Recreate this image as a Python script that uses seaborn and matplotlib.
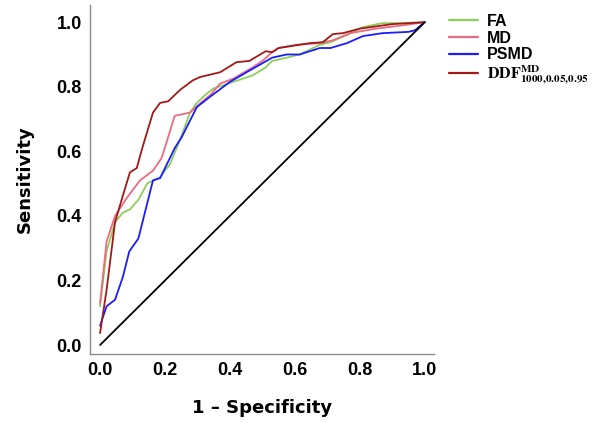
import pandas as pd
import matplotlib
matplotlib.use('Agg')
import matplotlib.pyplot as plt
import seaborn as sns

# ROC curves
fa_x = [0, 0.02, 0.046, 0.07, 0.092, 0.118, 0.145, 0.185, 0.215, 0.246, 0.277, 0.298, 0.33, 0.35,
        0.41, 0.47, 0.51, 0.53, 0.575, 0.615, 0.677, 0.71, 0.76, 0.81, 0.87, 0.93, 1.0]
fa_y = [0.12, 0.29, 0.38, 0.41, 0.42, 0.45, 0.50, 0.52, 0.56, 0.635, 0.72, 0.75, 0.78, 0.795,
        0.815, 0.835, 0.86, 0.88, 0.89, 0.90, 0.93, 0.938, 0.96, 0.985, 0.997, 0.997, 1.0]

md_x = [0, 0.02, 0.046, 0.082, 0.123, 0.163, 0.19, 0.23, 0.277, 0.31, 0.34, 0.37, 0.41, 0.47,
        0.50, 0.53, 0.55, 0.605, 0.677, 0.717, 0.77, 0.85, 0.93, 1.0]
md_y = [0.13, 0.32, 0.40, 0.455, 0.51, 0.54, 0.58, 0.71, 0.72, 0.75, 0.775, 0.81, 0.825, 0.86,
        0.88, 0.907, 0.92, 0.93, 0.935, 0.944, 0.966, 0.98, 0.99, 1.0]

psmd_x = [0, 0.02, 0.046, 0.07, 0.09, 0.118, 0.148, 0.163, 0.185, 0.23, 0.252, 0.298, 0.34, 0.40,
          0.46, 0.49, 0.53, 0.575, 0.615, 0.677, 0.71, 0.76, 0.81, 0.87, 0.95, 0.97, 1.0]
psmd_y = [0.06, 0.12, 0.14, 0.21, 0.29, 0.33, 0.45, 0.51, 0.517, 0.61, 0.645, 0.737, 0.77, 0.815,
          0.85, 0.867, 0.89, 0.90, 0.90, 0.92, 0.92, 0.935, 0.957, 0.966, 0.97, 0.975, 1.0]

ddf_x = [0, 0.02, 0.046, 0.068, 0.092, 0.113, 0.13, 0.163, 0.185, 0.21, 0.246, 0.286, 0.308, 0.37,
         0.42, 0.46, 0.51, 0.53, 0.55, 0.646, 0.686, 0.717, 0.748, 0.80, 0.90, 1.0]
ddf_y = [0.037, 0.17, 0.38, 0.455, 0.535, 0.548, 0.61, 0.72, 0.75, 0.755, 0.79, 0.82, 0.83, 0.845,
         0.876, 0.88, 0.91, 0.907, 0.92, 0.935, 0.938, 0.963, 0.966, 0.98, 0.994, 1.0]

ref_x = [0, 1]
ref_y = [0, 1]

labels = ['FA', 'MD', 'PSMD', r'$\mathbf{DDF}^{\mathbf{MD}}_{\mathbf{1000{,}0.05{,}0.95}}$']
colors = ['#8ccf5a', '#ec6a82', '#1c1cff', '#a31818']

curves = [(fa_x, fa_y), (md_x, md_y), (psmd_x, psmd_y), (ddf_x, ddf_y)]
frames = []
for lab, (xs, ys) in zip(labels, curves):
    frames.append(pd.DataFrame({'fpr': xs, 'tpr': ys, 'metric': lab}))
df = pd.concat(frames, ignore_index=True)

sns.set_style('white')
plt.rcParams['mathtext.fontset'] = 'stix'
plt.rcParams['text.color'] = 'black'

fig = plt.figure(figsize=(6, 4.23), dpi=100)
ax = fig.add_axes([0.15, 0.163, 0.573, 0.825])

sns.lineplot(data=df, x='fpr', y='tpr', hue='metric', hue_order=labels,
             palette=dict(zip(labels, colors)), sort=False, estimator=None,
             linewidth=1.3, ax=ax, legend=False)
sns.lineplot(x=ref_x, y=ref_y, color='black', linewidth=1.3, ax=ax)

ax.set_xlim(-0.031, 1.028)
ax.set_ylim(-0.028, 1.053)
ax.set_xticks([0, 0.2, 0.4, 0.6, 0.8, 1.0])
ax.set_yticks([0, 0.2, 0.4, 0.6, 0.8, 1.0])
ax.set_xticklabels(['0.0', '0.2', '0.4', '0.6', '0.8', '1.0'])
ax.set_yticklabels(['0.0', '0.2', '0.4', '0.6', '0.8', '1.0'])
ax.tick_params(length=0, labelsize=13, pad=6, labelcolor='black')
for t in ax.get_xticklabels() + ax.get_yticklabels():
    t.set_fontfamily('Liberation Sans')
    t.set_fontweight('bold')

for s in ['top', 'right']:
    ax.spines[s].set_visible(False)
for s in ['left', 'bottom']:
    ax.spines[s].set_color('#8a8a8a')
    ax.spines[s].set_linewidth(1.0)

ax.set_xlabel('1 – Specificity', fontsize=13, fontweight='bold', labelpad=14, color='black')
ax.set_ylabel('Sensitivity', fontsize=13, fontweight='bold', labelpad=16, color='black')

handles = [plt.Line2D([], [], color=c, linewidth=1.6) for c in colors]
leg = fig.legend(handles, labels, loc='upper left', bbox_to_anchor=(0.727, 0.997),
                 frameon=False, handlelength=1.8, handletextpad=0.55, labelspacing=0.1,
                 borderpad=0.3,
                 prop={'family': 'Liberation Sans', 'weight': 'bold', 'size': 11.5})
for t in leg.get_texts():
    t.set_color('black')

fig.savefig('out.png', dpi=100)
